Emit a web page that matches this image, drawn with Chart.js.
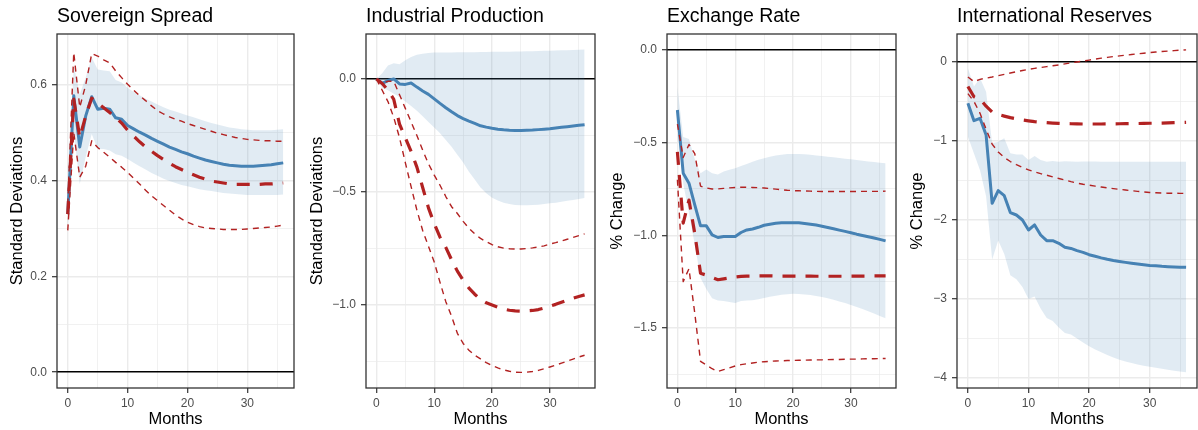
<!DOCTYPE html>
<html>
<head>
<meta charset="utf-8">
<script src="https://cdn.jsdelivr.net/npm/chart.js@4.4.1/dist/chart.umd.min.js"></script>
<style>
  html, body { margin: 0; padding: 0; background: #fff; }
  #wrap { position: relative; width: 1198px; height: 430px; }
  canvas { position: absolute; top: 0; }
</style>
</head>
<body>
<div id="wrap">
  <canvas id="spread" width="300" height="430" style="left:0px"></canvas>
  <canvas id="ip" width="300" height="430" style="left:300px"></canvas>
  <canvas id="fx" width="300" height="430" style="left:600px"></canvas>
  <canvas id="res" width="298" height="430" style="left:900px"></canvas>
</div>
<script>
// horizon in months
const months = [0,1,2,3,4,5,6,7,8,9,10,11,12,13,14,15,16,17,18,19,20,21,22,23,24,25,26,27,28,29,30,31,32,33,34,35,36];
const xMajor = [0, 10, 20, 30];
const xMajorLabels = ['0', '10', '20', '30'];
const xMinor = [5, 15, 25, 35];

// Sovereign spread
const spreadIrf = [0.33,0.577,0.47,0.535,0.575,0.549,0.551,0.549,0.531,0.528,0.515,0.508,0.501,0.495,0.488,0.482,0.476,0.470,0.465,0.460,0.456,0.451,0.447,0.443,0.440,0.437,0.434,0.432,0.431,0.430,0.430,0.430,0.431,0.432,0.433,0.435,0.437];
const spreadBandLo = [0.30,0.50,0.393,0.45,0.497,0.466,0.466,0.463,0.455,0.452,0.445,0.437,0.43,0.423,0.416,0.41,0.404,0.399,0.395,0.391,0.388,0.385,0.382,0.38,0.378,0.376,0.374,0.373,0.372,0.371,0.37,0.37,0.37,0.37,0.37,0.37,0.371];
const spreadBandHi = [0.36,0.64,0.58,0.615,0.657,0.632,0.63,0.628,0.61,0.605,0.594,0.585,0.578,0.571,0.565,0.559,0.553,0.548,0.544,0.54,0.536,0.532,0.528,0.524,0.52,0.517,0.514,0.511,0.509,0.507,0.506,0.505,0.505,0.505,0.505,0.506,0.507];
const spreadAlt = [0.33,0.57,0.49,0.535,0.572,0.562,0.552,0.542,0.532,0.52,0.505,0.493,0.481,0.47,0.461,0.452,0.444,0.436,0.429,0.423,0.417,0.412,0.407,0.403,0.399,0.397,0.395,0.393,0.392,0.392,0.392,0.392,0.392,0.393,0.393,0.394,0.395];
const spreadAltHi = [0.35,0.667,0.553,0.6,0.665,0.66,0.652,0.646,0.629,0.615,0.601,0.589,0.577,0.567,0.556,0.546,0.539,0.533,0.528,0.524,0.519,0.515,0.511,0.507,0.503,0.499,0.496,0.493,0.49,0.488,0.486,0.485,0.484,0.483,0.483,0.482,0.482];
const spreadAltLo = [0.296,0.5,0.407,0.43,0.483,0.469,0.459,0.449,0.438,0.428,0.417,0.405,0.393,0.38,0.368,0.358,0.348,0.338,0.328,0.32,0.313,0.308,0.304,0.301,0.3,0.299,0.298,0.298,0.298,0.298,0.299,0.3,0.301,0.302,0.303,0.305,0.307];
const spreadYMajor = [0, 0.2, 0.4, 0.6];
const spreadYLabels = ['0.0', '0.2', '0.4', '0.6'];
const spreadYMinor = [0.1, 0.3, 0.5];

// Industrial production
const ipIrf = [0,-0.019,-0.007,0,-0.022,-0.024,-0.018,-0.036,-0.053,-0.068,-0.088,-0.108,-0.127,-0.145,-0.162,-0.175,-0.186,-0.196,-0.207,-0.213,-0.218,-0.222,-0.225,-0.227,-0.228,-0.228,-0.227,-0.226,-0.224,-0.222,-0.22,-0.217,-0.214,-0.211,-0.208,-0.205,-0.202];
const ipBandLo = [0,-0.04,-0.05,-0.065,-0.08,-0.1,-0.12,-0.14,-0.165,-0.19,-0.215,-0.24,-0.27,-0.3,-0.335,-0.37,-0.41,-0.445,-0.48,-0.505,-0.525,-0.538,-0.547,-0.553,-0.557,-0.559,-0.559,-0.558,-0.556,-0.553,-0.55,-0.547,-0.543,-0.539,-0.535,-0.531,-0.527];
const ipBandHi = [0,0.025,0.06,0.07,0.065,0.083,0.097,0.107,0.112,0.115,0.117,0.117,0.117,0.117,0.118,0.118,0.118,0.118,0.119,0.119,0.12,0.12,0.121,0.121,0.122,0.122,0.123,0.123,0.124,0.125,0.125,0.126,0.127,0.127,0.128,0.129,0.13];
const ipAlt = [0,-0.02,-0.05,-0.09,-0.2,-0.26,-0.32,-0.39,-0.48,-0.57,-0.64,-0.7,-0.745,-0.8,-0.85,-0.89,-0.925,-0.952,-0.975,-0.99,-1.0,-1.01,-1.018,-1.023,-1.026,-1.027,-1.026,-1.024,-1.02,-1.013,-1.005,-0.997,-0.988,-0.979,-0.97,-0.962,-0.955];
const ipAltHi = [0,-0.02,-0.01,-0.01,-0.07,-0.13,-0.19,-0.25,-0.315,-0.375,-0.425,-0.47,-0.52,-0.565,-0.595,-0.63,-0.66,-0.685,-0.705,-0.72,-0.733,-0.742,-0.748,-0.751,-0.752,-0.752,-0.75,-0.747,-0.743,-0.738,-0.73,-0.724,-0.717,-0.709,-0.701,-0.693,-0.685];
const ipAltLo = [0,-0.05,-0.1,-0.17,-0.26,-0.37,-0.476,-0.58,-0.67,-0.74,-0.81,-0.9,-0.985,-1.05,-1.125,-1.17,-1.2,-1.222,-1.238,-1.255,-1.268,-1.278,-1.287,-1.293,-1.297,-1.298,-1.297,-1.294,-1.289,-1.282,-1.274,-1.266,-1.257,-1.248,-1.239,-1.23,-1.222];
const ipYMajor = [0, -0.5, -1.0];
const ipYLabels = ['0.0', '\u22120.5', '\u22121.0'];
const ipYMinor = [-0.25, -0.75, -1.25];

// Exchange rate
const fxIrf = [-0.324,-0.665,-0.719,-0.836,-0.949,-0.949,-0.998,-1.012,-1.007,-1.007,-1.007,-0.985,-0.971,-0.966,-0.957,-0.946,-0.94,-0.935,-0.933,-0.932,-0.932,-0.933,-0.936,-0.94,-0.945,-0.951,-0.958,-0.965,-0.972,-0.979,-0.986,-0.994,-1.001,-1.008,-1.015,-1.022,-1.03];
const fxBandLo = [-0.40,-0.72,-0.88,-1.05,-1.23,-1.29,-1.34,-1.352,-1.355,-1.36,-1.366,-1.355,-1.352,-1.35,-1.345,-1.338,-1.332,-1.326,-1.321,-1.318,-1.316,-1.317,-1.319,-1.322,-1.327,-1.333,-1.34,-1.348,-1.357,-1.366,-1.376,-1.387,-1.398,-1.41,-1.422,-1.435,-1.448];
const fxBandHi = [-0.2,-0.47,-0.48,-0.59,-0.665,-0.645,-0.665,-0.672,-0.656,-0.647,-0.638,-0.626,-0.615,-0.603,-0.593,-0.584,-0.576,-0.57,-0.565,-0.562,-0.561,-0.561,-0.563,-0.566,-0.569,-0.572,-0.576,-0.579,-0.583,-0.587,-0.59,-0.594,-0.598,-0.602,-0.605,-0.608,-0.611];
const fxAlt = [-0.55,-0.935,-0.81,-0.99,-1.205,-1.215,-1.228,-1.24,-1.235,-1.23,-1.225,-1.222,-1.22,-1.22,-1.219,-1.219,-1.219,-1.22,-1.22,-1.22,-1.22,-1.22,-1.22,-1.22,-1.221,-1.221,-1.221,-1.221,-1.221,-1.221,-1.22,-1.22,-1.22,-1.22,-1.219,-1.219,-1.219];
const fxAltHi = [-0.4,-0.58,-0.51,-0.56,-0.735,-0.745,-0.75,-0.75,-0.747,-0.744,-0.742,-0.741,-0.741,-0.742,-0.743,-0.745,-0.748,-0.751,-0.754,-0.757,-0.759,-0.76,-0.761,-0.762,-0.763,-0.764,-0.764,-0.764,-0.764,-0.764,-0.764,-0.764,-0.763,-0.763,-0.763,-0.763,-0.762];
const fxAltLo = [-0.70,-1.25,-1.18,-1.42,-1.68,-1.70,-1.72,-1.735,-1.725,-1.715,-1.705,-1.698,-1.693,-1.689,-1.685,-1.682,-1.68,-1.678,-1.677,-1.676,-1.675,-1.674,-1.674,-1.673,-1.672,-1.672,-1.671,-1.670,-1.670,-1.669,-1.668,-1.668,-1.667,-1.666,-1.666,-1.665,-1.665];
const fxYMajor = [0, -0.5, -1.0, -1.5];
const fxYLabels = ['0.0', '\u22120.5', '\u22121.0', '\u22121.5'];
const fxYMinor = [-0.25, -0.75, -1.25, -1.75];

// International reserves
const resIrf = [-0.523,-0.743,-0.713,-0.924,-1.789,-1.629,-1.692,-1.907,-1.937,-2.0,-2.127,-2.063,-2.19,-2.262,-2.262,-2.295,-2.346,-2.36,-2.388,-2.41,-2.44,-2.46,-2.48,-2.497,-2.512,-2.525,-2.537,-2.548,-2.558,-2.567,-2.575,-2.581,-2.587,-2.591,-2.595,-2.598,-2.6];
const resBandLo = [-0.945,-1.16,-1.37,-1.7,-2.5,-2.26,-2.43,-2.7,-2.75,-2.85,-3.0,-2.97,-3.12,-3.24,-3.28,-3.36,-3.43,-3.45,-3.5,-3.55,-3.6,-3.64,-3.675,-3.71,-3.74,-3.77,-3.79,-3.81,-3.83,-3.845,-3.857,-3.87,-3.883,-3.896,-3.908,-3.918,-3.928];
const resBandHi = [-0.08,-0.312,-0.207,-0.376,-1.03,-1.01,-0.966,-1.156,-1.17,-1.17,-1.24,-1.19,-1.24,-1.262,-1.255,-1.262,-1.258,-1.26,-1.262,-1.26,-1.26,-1.261,-1.262,-1.262,-1.262,-1.262,-1.263,-1.263,-1.263,-1.263,-1.263,-1.263,-1.263,-1.263,-1.263,-1.263,-1.263];
const resAlt = [-0.31,-0.44,-0.47,-0.56,-0.635,-0.665,-0.685,-0.705,-0.72,-0.735,-0.745,-0.755,-0.762,-0.768,-0.773,-0.777,-0.78,-0.782,-0.784,-0.785,-0.785,-0.785,-0.785,-0.784,-0.783,-0.782,-0.781,-0.78,-0.779,-0.778,-0.776,-0.775,-0.773,-0.771,-0.769,-0.767,-0.765];
const resAltHi = [-0.19,-0.25,-0.22,-0.205,-0.19,-0.173,-0.157,-0.14,-0.124,-0.108,-0.093,-0.081,-0.07,-0.059,-0.048,-0.037,-0.024,-0.011,0.0,0.011,0.024,0.036,0.048,0.058,0.068,0.077,0.086,0.094,0.103,0.111,0.119,0.126,0.132,0.138,0.144,0.149,0.153];
const resAltLo = [-0.4,-0.5,-0.65,-0.85,-1.04,-1.14,-1.21,-1.26,-1.3,-1.335,-1.365,-1.39,-1.413,-1.433,-1.455,-1.475,-1.495,-1.515,-1.533,-1.548,-1.56,-1.572,-1.583,-1.594,-1.603,-1.612,-1.621,-1.63,-1.638,-1.646,-1.652,-1.656,-1.659,-1.661,-1.662,-1.663,-1.664];
const resYMajor = [0, -1, -2, -3, -4];
const resYLabels = ['0', '\u22121', '\u22122', '\u22123', '\u22124'];
const resYMinor = [-0.5, -1.5, -2.5, -3.5];

const FONT = '"Liberation Sans", Arial, Helvetica, sans-serif';
Chart.defaults.font.family = FONT;

const STEEL = '#4682b4';
const FIRE = '#b22222';

const toXY = arr => months.map((m, i) => ({ x: m, y: arr[i] }));

// frame + panel title
const panelDeco = {
    id: 'panelDeco',
    afterDraw(chart, args, opts) {
        const { ctx, chartArea: a } = chart;
        ctx.save();
        ctx.strokeStyle = '#333333';
        ctx.lineWidth = 1.3;
        ctx.strokeRect(a.left, a.top, a.right - a.left, a.bottom - a.top);
        ctx.fillStyle = '#000';
        ctx.font = '19.5px ' + FONT;
        ctx.textBaseline = 'alphabetic';
        ctx.textAlign = 'left';
        ctx.fillText(opts.text, a.left, 22);
        ctx.restore();
    }
};

function panel(id, title, yTitle, s, yMin, yMax, yMajor, yLabels, yMinor, box) {
    const canvas = document.getElementById(id);
    const w = canvas.width;
    const line = (data, color, width, dash, order) => ({
        data: toXY(data), borderColor: color, borderWidth: width, borderDash: dash,
        pointRadius: 0, tension: 0, fill: false, order: order,
        borderCapStyle: 'butt', borderJoinStyle: 'round'
    });
    new Chart(canvas, {
        type: 'line',
        data: {
            datasets: [
                { data: toXY(s.lo), borderWidth: 0, pointRadius: 0, fill: false, order: 6 },
                { data: toXY(s.hi), borderWidth: 0, pointRadius: 0, fill: '-1',
                  backgroundColor: 'rgba(70,130,180,0.16)', order: 5 },
                line(s.irf, STEEL, 3, [], 4),
                line(s.altHi, FIRE, 1.4, [6, 5], 2),
                line(s.altLo, FIRE, 1.4, [6, 5], 2),
                line(s.alt, FIRE, 3.2, [13, 10], 1)
            ]
        },
        options: {
            responsive: false,
            animation: false,
            events: [],
            layout: { padding: { top: box.top, left: 0, right: w - box.right, bottom: 0 } },
            plugins: {
                legend: { display: false },
                tooltip: { enabled: false },
                panelDeco: { text: title }
            },
            scales: {
                x: {
                    type: 'linear', min: -1.8, max: 37.8,
                    afterBuildTicks: sc => { sc.ticks = xMajor.concat(xMinor).sort((a, b) => a - b).map(v => ({ value: v })); },
                    afterFit: sc => { sc.height = 430 - box.bottom; },
                    ticks: {
                        autoSkip: false, maxRotation: 0, padding: 3, color: '#4d4d4d',
                        font: { size: 12 },
                        callback: v => { const i = xMajor.indexOf(v); return i < 0 ? '' : xMajorLabels[i]; }
                    },
                    grid: {
                        color: '#ebebeb',
                        lineWidth: c => xMajor.includes(c.tick.value) ? 1.4 : 0.7,
                        tickColor: c => xMajor.includes(c.tick.value) ? '#333333' : 'rgba(0,0,0,0)',
                        tickLength: 5, tickWidth: 1.2
                    },
                    border: { display: false },
                    title: { display: true, text: 'Months', color: '#000', font: { size: 16.5 }, padding: { top: 0, bottom: 1 } }
                },
                y: {
                    type: 'linear', min: yMin, max: yMax,
                    afterBuildTicks: sc => { sc.ticks = yMajor.concat(yMinor).sort((a, b) => a - b).map(v => ({ value: v })); },
                    afterFit: sc => { sc.width = box.left; },
                    ticks: {
                        autoSkip: false, padding: 5, color: '#4d4d4d', font: { size: 12 },
                        callback: v => { const i = yMajor.indexOf(v); return i < 0 ? '' : yLabels[i]; }
                    },
                    grid: {
                        color: c => c.tick.value === 0 ? '#000000' : '#ebebeb',
                        lineWidth: c => yMajor.includes(c.tick.value) ? 1.4 : 0.7,
                        tickColor: c => yMajor.includes(c.tick.value) ? '#333333' : 'rgba(0,0,0,0)',
                        tickLength: 5, tickWidth: 1.2
                    },
                    border: { display: false },
                    title: { display: true, text: yTitle, color: '#000', font: { size: 16.5 }, padding: { top: 8, bottom: 0 } }
                }
            }
        },
        plugins: [panelDeco]
    });
}

panel('spread', 'Sovereign Spread', 'Standard Deviations',
    { irf: spreadIrf, lo: spreadBandLo, hi: spreadBandHi, alt: spreadAlt, altHi: spreadAltHi, altLo: spreadAltLo },
    -0.033, 0.706, spreadYMajor, spreadYLabels, spreadYMinor, { left: 57, right: 294, top: 34, bottom: 388 });

panel('ip', 'Industrial Production', 'Standard Deviations',
    { irf: ipIrf, lo: ipBandLo, hi: ipBandHi, alt: ipAlt, altHi: ipAltHi, altLo: ipAltLo },
    -1.367, 0.199, ipYMajor, ipYLabels, ipYMinor, { left: 66, right: 295, top: 34, bottom: 388 });

panel('fx', 'Exchange Rate', '% Change',
    { irf: fxIrf, lo: fxBandLo, hi: fxBandHi, alt: fxAlt, altHi: fxAltHi, altLo: fxAltLo },
    -1.824, 0.086, fxYMajor, fxYLabels, fxYMinor, { left: 67, right: 296, top: 34, bottom: 388 });

panel('res', 'International Reserves', '% Change',
    { irf: resIrf, lo: resBandLo, hi: resBandHi, alt: resAlt, altHi: resAltHi, altLo: resAltLo },
    -4.127, 0.354, resYMajor, resYLabels, resYMinor, { left: 57, right: 297, top: 34, bottom: 388 });
</script>
</body>
</html>
